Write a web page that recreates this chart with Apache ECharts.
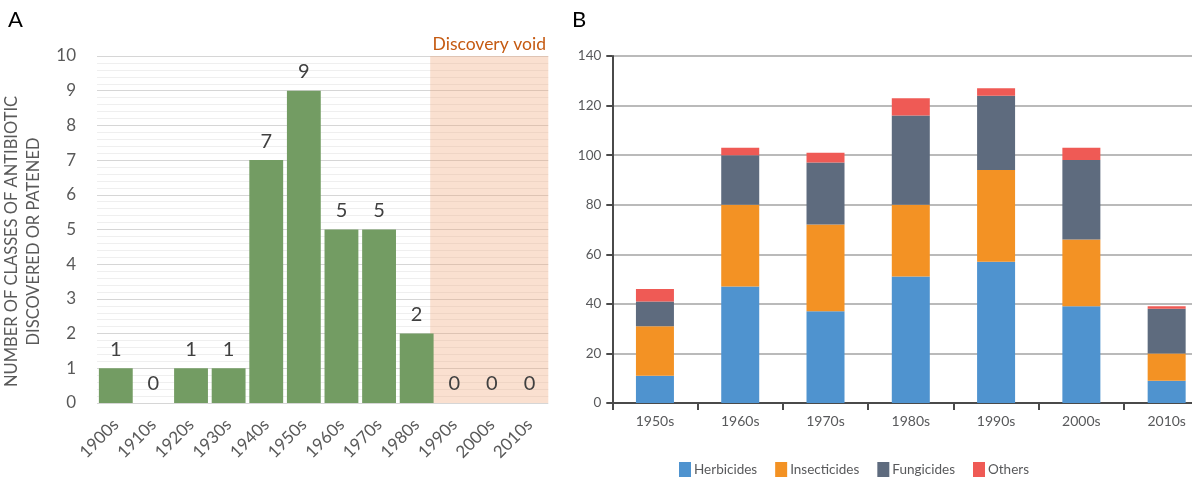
<!DOCTYPE html>
<html>
<head>
<meta charset="utf-8">
<script src="https://cdn.jsdelivr.net/npm/echarts@6/dist/echarts.min.js"></script>
<style>
html,body{margin:0;padding:0;background:#fff;overflow:hidden;width:1192px;height:481px;}
#chart{width:1230px;height:481px;}
</style>
</head>
<body>
<div id="chart"></div>
<script>
// ---- Panel A data ----
const decadesA = ['1900s','1910s','1920s','1930s','1940s','1950s','1960s','1970s','1980s','1990s','2000s','2010s'];
const classesA = [1,0,1,1,7,9,5,5,2,0,0,0];
const yTicksA = [0,1,2,3,4,5,6,7,8,9,10];
// discovery void band, in category units along the axis (0 = left edge, 12 = right edge)
const voidStart = 8.86;
const voidEnd = 12;
const voidLabel = 'Discovery void';

// ---- Panel B data ----
const decadesB = ['1950s','1960s','1970s','1980s','1990s','2000s','2010s'];
const herbicides   = [11,47,37,51,57,39,9];
const insecticides = [20,33,35,29,37,27,11];
const fungicides   = [10,20,25,36,30,32,18];
const others       = [5,3,4,7,3,5,1];
const seriesNamesB = ['Herbicides','Insecticides','Fungicides','Others'];
const colorsB = ['#4f93cf','#f39224','#5e6b7e','#ef5a55'];

const chart = echarts.init(document.getElementById('chart'), null, {renderer:'canvas'});
const fontA = 'Lato, "Open Sans", sans-serif';
const fontB = 'Lato, "Open Sans", sans-serif';
const grayA = '#595959';

const seriesB = [herbicides, insecticides, fungicides, others].map((d,i)=>({
  name: seriesNamesB[i], type:'bar', stack:'b', xAxisIndex:2, yAxisIndex:1,
  barWidth:38, data:d, itemStyle:{color:colorsB[i]}
}));

chart.setOption({
  animation:false,
  title:[
    {text:'A', left:3, top:4, textStyle:{fontFamily:fontA, fontSize:22, fontWeight:'normal', color:'#000'}},
    {text:'B', left:567, top:4, textStyle:{fontFamily:fontB, fontSize:22, fontWeight:'normal', color:'#000'}}
  ],
  grid:[
    {left:92.3, top:56, width:456, height:347},
    {left:612.3, top:56, width:597, height:347}
  ],
  legend:{
    data:seriesNamesB, left:674, top:457, itemWidth:12, itemHeight:15, itemGap:18,
    icon:'rect',
    textStyle:{fontFamily:fontB, fontSize:13.5, color:'#58595b', padding:[0,0,0,-2]}
  },
  xAxis:[
    {gridIndex:0, type:'category', data:decadesA, boundaryGap:true,
     axisLine:{show:false}, axisTick:{show:false},
     axisLabel:{rotate:45, margin:19, fontFamily:fontA, fontSize:17, color:grayA}},
    {gridIndex:0, type:'value', min:0, max:12, show:false},
    {gridIndex:1, type:'category', data:decadesB, boundaryGap:true,
     axisLine:{show:true, lineStyle:{color:'#4a4a4a', width:2}},
     axisTick:{show:true, length:7, lineStyle:{color:'#4a4a4a', width:2}},
     axisLabel:{margin:11, fontFamily:fontB, fontSize:14, color:'#58595b'}}
  ],
  yAxis:[
    {gridIndex:0, type:'value', min:0, max:10, interval:1,
     name:'NUMBER OF CLASSES OF ANTIBIOTIC\nDISCOVERED OR PATENED',
     nameLocation:'middle', nameGap:52, nameRotate:90,
     nameTextStyle:{fontFamily:fontA, fontSize:16.5, color:grayA, lineHeight:22, padding:[0,24,0,0]},
     axisLine:{show:false}, axisTick:{show:false},
     axisLabel:{margin:21, fontFamily:fontA, fontSize:17, color:grayA},
     splitLine:{show:true, lineStyle:{color:'#d6d6d6', width:1}},
     minorTick:{show:false, splitNumber:5},
     minorSplitLine:{show:true, lineStyle:{color:'#efefef', width:1}}},
    {gridIndex:1, type:'value', min:0, max:140, interval:20,
     axisLine:{show:true, lineStyle:{color:'#4a4a4a', width:2}},
     axisTick:{show:true, length:6, lineStyle:{color:'#4a4a4a', width:2}},
     axisLabel:{margin:11, fontFamily:fontB, fontSize:13.5, color:'#58595b'},
     splitLine:{show:true, lineStyle:{color:'#a3a3a3', width:1.6}}}
  ],
  series:[
    {type:'bar', xAxisIndex:0, yAxisIndex:0, data:classesA, barCategoryGap:'10%', z:2,
     itemStyle:{color:'#739c63'},
     label:{show:true, position:'top', distance:9, fontFamily:fontA, fontSize:20, color:'#404040'}},
    {type:'line', xAxisIndex:1, yAxisIndex:0, data:[], z:5, silent:true,
     markArea:{silent:true,
       itemStyle:{color:'rgba(240,160,110,0.32)'},
       label:{show:true, position:'top', distance:3, fontFamily:fontA, fontSize:17.5, color:'#c55a11'},
       data:[[{name:voidLabel, xAxis:voidStart, yAxis:0},{xAxis:voidEnd, yAxis:10}]]}}
  ].concat(seriesB)
});
</script>
</body>
</html>
